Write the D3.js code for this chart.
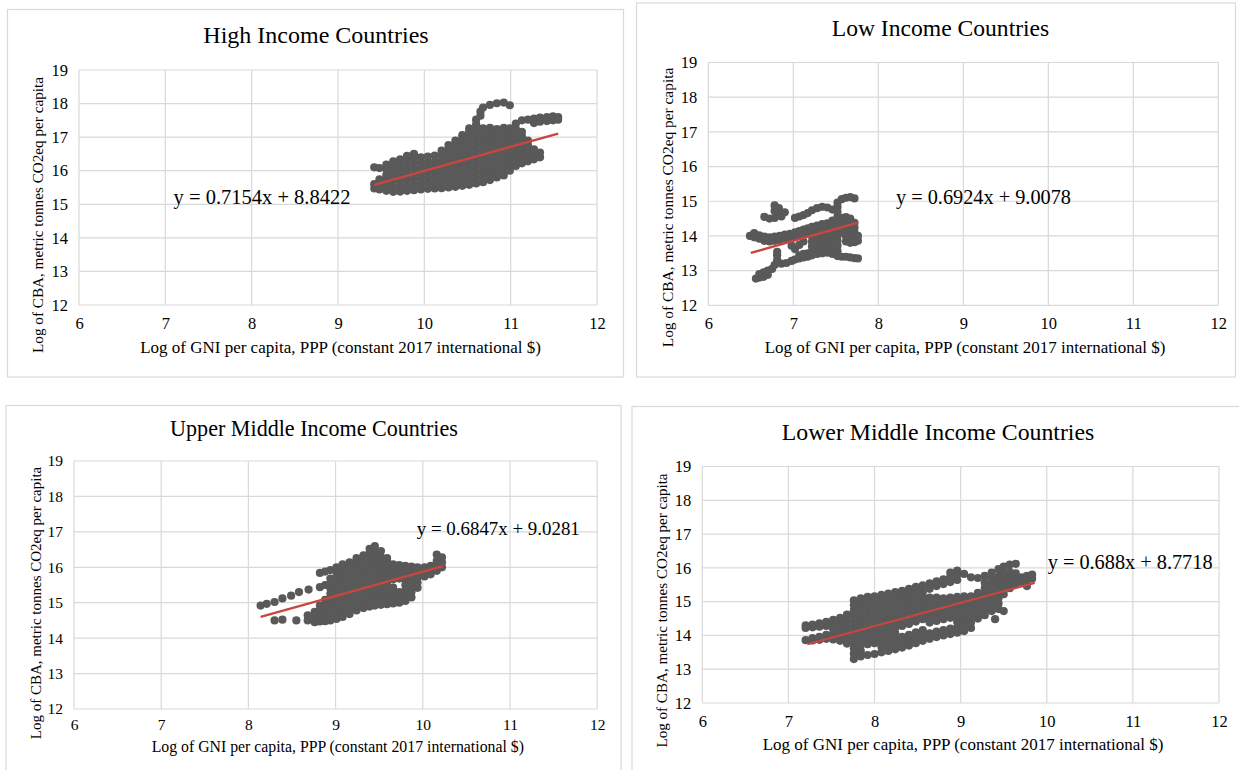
<!DOCTYPE html>
<html>
<head>
<meta charset="utf-8">
<script src="https://cdn.jsdelivr.net/npm/d3@7"></script>
<style>
  body { margin: 0; background: #fff; }
  svg { display: block; }
</style>
</head>
<body>
<svg width="1239" height="770"></svg>
<script>
// ---- data ----
const xTicks = [6, 7, 8, 9, 10, 11, 12];
const yTicks = [12, 13, 14, 15, 16, 17, 18, 19];
const xTitle = "Log of GNI per capita, PPP (constant 2017 international $)";
const yTitle = "Log of CBA, metric tonnes CO2eq per capita";
const titles = ["High Income Countries", "Low Income Countries", "Upper Middle Income Countries", "Lower Middle Income Countries"];
const equations = ["y = 0.7154x + 8.8422", "y = 0.6924x + 9.0078", "y = 0.6847x + 9.0281", "y = 0.688x + 8.7718"];
const slopes = [0.7154, 0.6924, 0.6847, 0.688];
const intercepts = [8.8422, 9.0078, 9.0281, 8.7718];
const trendFrom = [9.42, 6.5, 8.14, 7.22];
const trendTo = [11.55, 7.76, 10.23, 9.86];

// points are stored as columns: [x, y1, y2, ...]
const highCols = [
  [9.42, 15.47, 15.6, 16.1],
  [9.48, 15.44, 15.6, 15.74, 16.08],
  [9.56, 15.40, 15.56, 15.72, 15.88, 16.04, 16.18],
  [9.64, 15.37, 15.53, 15.69, 15.85, 16.01, 16.17, 16.28],
  [9.72, 15.38, 15.54, 15.70, 15.86, 16.02, 16.18, 16.34],
  [9.80, 15.40, 15.56, 15.72, 15.88, 16.04, 16.20, 16.36, 16.44],
  [9.88, 15.42, 15.58, 15.74, 15.90, 16.06, 16.22, 16.38, 16.50],
  [9.96, 15.44, 15.60, 15.76, 15.92, 16.08, 16.24, 16.40],
  [10.04, 15.46, 15.62, 15.78, 15.94, 16.10, 16.26, 16.42],
  [10.12, 15.47, 15.63, 15.79, 15.95, 16.11, 16.27, 16.45],
  [10.20, 15.48, 15.64, 15.80, 15.96, 16.12, 16.28, 16.44, 16.60],
  [10.28, 15.50, 15.66, 15.82, 15.98, 16.14, 16.30, 16.46, 16.62, 16.76],
  [10.36, 15.52, 15.68, 15.84, 16.00, 16.16, 16.32, 16.48, 16.64, 16.80, 16.90],
  [10.44, 15.55, 15.71, 15.87, 16.03, 16.19, 16.35, 16.51, 16.67, 16.83, 16.99, 17.06],
  [10.52, 15.58, 15.74, 15.90, 16.06, 16.22, 16.38, 16.54, 16.70, 16.86, 17.02, 17.18, 17.26],
  [10.60, 15.62, 15.78, 15.94, 16.10, 16.26, 16.42, 16.58, 16.74, 16.90, 17.06, 17.22, 17.38, 17.52],
  [10.65, 17.64, 17.76],
  [10.68, 15.66, 15.82, 15.98, 16.14, 16.30, 16.46, 16.62, 16.78, 16.94, 17.10, 17.26, 17.88],
  [10.76, 15.72, 15.88, 16.04, 16.20, 16.36, 16.52, 16.68, 16.84, 17.00, 17.16, 17.28, 17.96],
  [10.84, 15.80, 15.96, 16.12, 16.28, 16.44, 16.60, 16.76, 16.92, 17.08, 17.24, 18.01],
  [10.92, 15.86, 16.02, 16.18, 16.34, 16.50, 16.66, 16.82, 16.98, 17.14, 17.28, 18.03],
  [10.99, 16.00, 16.16, 16.32, 16.48, 16.64, 16.80, 16.96, 17.12, 17.26, 17.95],
  [11.06, 16.14, 16.30, 16.46, 16.62, 16.78, 16.94, 17.10, 17.24, 17.40],
  [11.13, 16.22, 16.38, 16.54, 16.70, 16.86, 17.02, 17.16, 17.50],
  [11.20, 16.28, 16.44, 16.60, 16.76, 16.90, 17.52],
  [11.27, 16.34, 16.50, 16.64, 17.42, 17.55],
  [11.34, 16.40, 16.54, 17.46, 17.58],
  [11.42, 17.48, 17.60],
  [11.49, 17.50, 17.62],
  [11.55, 17.52, 17.60]
];

const lowCols = [
  [6.49, 14.0],
  [6.54, 13.96, 14.08],
  [6.56, 12.77],
  [6.6, 12.8, 12.9, 13.92, 14.02],
  [6.65, 12.82, 12.95],
  [6.66, 13.86, 13.98, 14.55],
  [6.7, 12.88, 13.0],
  [6.72, 13.84, 13.96, 14.5],
  [6.75, 13.05],
  [6.78, 13.16, 13.86, 13.98, 14.52, 14.72, 14.88],
  [6.81, 13.3, 13.44, 13.54],
  [6.83, 14.62, 14.8],
  [6.84, 13.88, 14.0],
  [6.86, 13.2, 14.56],
  [6.9, 13.92, 14.04, 14.68],
  [6.92, 13.22],
  [6.96, 13.95, 14.06],
  [6.98, 13.28, 13.72],
  [7.02, 13.32, 13.62, 13.98, 14.1, 14.52],
  [7.07, 13.35, 13.44, 13.74, 14.02, 14.14, 14.56],
  [7.12, 13.38, 13.48, 13.84, 14.06, 14.18, 14.6],
  [7.17, 13.4, 13.5, 14.1, 14.22, 14.66],
  [7.22, 13.44, 13.56, 13.7, 13.84, 13.98, 14.12, 14.26, 14.74],
  [7.28, 13.48, 13.6, 13.74, 13.88, 14.02, 14.16, 14.3, 14.8],
  [7.34, 13.5, 13.64, 13.78, 13.92, 14.06, 14.2, 14.34, 14.84],
  [7.4, 13.52, 13.66, 13.8, 13.94, 14.08, 14.22, 14.36, 14.82],
  [7.46, 13.48, 13.62, 13.76, 13.9, 14.04, 14.18, 14.32, 14.44, 14.76],
  [7.52, 13.42, 13.56, 13.72, 13.86, 14.0, 14.14, 14.28, 14.42, 14.56, 14.7, 14.84, 14.96],
  [7.57, 13.4, 14.1, 14.24, 14.38, 14.52, 15.06],
  [7.62, 13.4, 13.84, 13.98, 14.12, 14.26, 14.4, 14.54, 15.1],
  [7.67, 13.38, 13.8, 13.94, 14.08, 14.22, 14.36, 14.5, 15.12],
  [7.72, 13.36, 13.82, 13.96, 14.1, 14.24, 14.38, 15.08],
  [7.76, 13.35, 13.86, 14.0]
];

const upperCols = [
  [8.14, 14.92], [8.21, 14.97], [8.30, 14.50, 15.02], [8.39, 14.52, 15.12],
  [8.49, 15.20], [8.55, 14.50], [8.58, 15.30], [8.69, 15.37],
  [8.68, 14.50, 14.64],
  [8.76, 14.45, 14.60, 14.74],
  [8.82, 14.47, 14.62, 14.77, 14.92, 15.44, 15.84],
  [8.88, 14.48, 14.63, 14.78, 14.93, 15.08, 15.50, 15.88],
  [8.94, 14.50, 14.65, 14.80, 14.95, 15.10, 15.25, 15.40, 15.55, 15.68, 15.92],
  [9.01, 14.54, 14.69, 14.84, 14.99, 15.14, 15.29, 15.44, 15.59, 15.74, 15.89, 16.00],
  [9.08, 14.60, 14.75, 14.90, 15.05, 15.20, 15.35, 15.50, 15.65, 15.80, 15.95, 16.08],
  [9.16, 14.68, 14.83, 14.98, 15.13, 15.28, 15.43, 15.58, 15.73, 15.88, 16.03, 16.14],
  [9.24, 14.78, 14.93, 15.08, 15.23, 15.38, 15.53, 15.68, 15.83, 15.98, 16.13, 16.26],
  [9.32, 14.85, 15.00, 15.15, 15.30, 15.45, 15.60, 15.75, 15.90, 16.05, 16.20, 16.34],
  [9.39, 14.89, 15.04, 15.19, 15.34, 15.49, 15.64, 15.79, 15.94, 16.09, 16.24, 16.39, 16.52],
  [9.45, 14.92, 15.07, 15.22, 15.37, 15.52, 15.67, 15.82, 15.97, 16.12, 16.27, 16.42, 16.60],
  [9.52, 14.94, 15.09, 15.24, 15.39, 15.54, 15.69, 15.84, 15.99, 16.14, 16.29, 16.46],
  [9.59, 14.96, 15.11, 15.26, 15.41, 15.56, 15.71, 15.86, 16.01, 16.16, 16.26],
  [9.66, 14.98, 15.13, 15.28, 15.43, 15.66, 15.81, 15.96, 16.08],
  [9.73, 15.00, 15.15, 15.30, 15.68, 15.83, 15.98, 16.06],
  [9.80, 15.05, 15.20, 15.35, 15.50, 15.65, 15.80, 15.95, 16.04],
  [9.87, 15.15, 15.30, 15.45, 15.60, 15.75, 15.90, 16.02],
  [9.94, 15.42, 15.57, 15.72, 15.87, 16.00],
  [10.02, 15.74, 15.88, 16.00],
  [10.09, 15.80, 15.94, 16.04],
  [10.16, 15.90, 16.04, 16.18, 16.36],
  [10.22, 16.00, 16.14, 16.28]
];

const lowerCols = [
  [7.20, 13.86, 14.22, 14.30],
  [7.28, 13.85, 13.92, 14.24, 14.32],
  [7.36, 13.87, 13.96, 14.26, 14.36],
  [7.44, 13.90, 14.02, 14.28, 14.40],
  [7.52, 13.88, 14.04, 14.18, 14.32, 14.46],
  [7.60, 13.84, 14.00, 14.14, 14.30, 14.46, 14.52],
  [7.68, 13.76, 13.92, 14.08, 14.24, 14.40, 14.56, 14.62],
  [7.76, 13.30, 13.46, 13.62, 13.78, 13.94, 14.10, 14.26, 14.42, 14.58, 14.74, 14.90, 15.04],
  [7.84, 13.38, 13.54, 13.70, 13.86, 14.02, 14.18, 14.34, 14.50, 14.66, 14.82, 14.98, 15.10],
  [7.92, 13.42, 13.74, 13.90, 14.06, 14.22, 14.38, 14.54, 14.70, 14.86, 15.02, 15.14],
  [8.00, 13.45, 13.77, 13.93, 14.09, 14.25, 14.41, 14.57, 14.73, 14.89, 15.05, 15.16],
  [8.08, 13.50, 13.66, 13.82, 13.98, 14.14, 14.30, 14.46, 14.62, 14.78, 14.94, 15.10, 15.20],
  [8.16, 13.54, 13.70, 13.86, 14.02, 14.18, 14.34, 14.50, 14.66, 14.82, 14.98, 15.14, 15.24],
  [8.24, 13.59, 13.75, 13.91, 14.07, 14.23, 14.39, 14.55, 14.71, 14.87, 15.03, 15.19, 15.28],
  [8.32, 13.64, 13.80, 13.96, 14.28, 14.44, 14.60, 14.76, 14.92, 15.08, 15.24, 15.32],
  [8.40, 13.70, 13.86, 14.02, 14.34, 14.50, 14.66, 14.82, 14.98, 15.14, 15.30, 15.38],
  [8.48, 13.77, 13.93, 14.09, 14.41, 14.57, 14.73, 14.89, 15.05, 15.21, 15.37, 15.44],
  [8.56, 13.84, 14.00, 14.16, 14.48, 14.64, 14.80, 14.96, 15.12, 15.28, 15.48],
  [8.64, 13.90, 14.06, 14.38, 14.54, 14.70, 14.86, 15.02, 15.12, 15.38, 15.54],
  [8.72, 13.95, 14.11, 14.43, 14.59, 14.75, 14.91, 15.07, 15.12, 15.46, 15.60],
  [8.80, 14.00, 14.16, 14.48, 14.64, 14.80, 14.96, 15.10, 15.52, 15.66],
  [8.88, 14.04, 14.20, 14.52, 14.68, 14.84, 15.00, 15.12, 15.58, 15.74, 15.86],
  [8.96, 14.08, 14.24, 14.40, 14.56, 14.72, 14.88, 15.04, 15.14, 15.64, 15.80, 15.92],
  [9.04, 14.13, 14.29, 14.45, 14.61, 14.77, 14.93, 15.08, 15.16, 15.82],
  [9.12, 14.22, 14.38, 14.54, 14.70, 14.86, 15.02, 15.16, 15.72],
  [9.20, 14.50, 14.66, 14.82, 14.98, 15.14, 15.26, 15.70],
  [9.28, 14.60, 14.76, 14.92, 15.08, 15.24, 15.40, 15.56, 15.76],
  [9.36, 14.72, 14.88, 15.04, 15.20, 15.36, 15.52, 15.68, 15.86],
  [9.40, 14.48],
  [9.44, 14.78, 14.94, 15.10, 15.26, 15.42, 15.58, 15.74, 15.96],
  [9.50, 14.72, 15.22, 15.38, 15.54, 15.70, 15.86, 16.04],
  [9.57, 15.40, 15.56, 15.72, 15.88, 16.10],
  [9.64, 15.52, 15.68, 15.84, 16.12],
  [9.71, 15.58, 15.72],
  [9.77, 15.46, 15.64, 15.76],
  [9.83, 15.68, 15.80]
];

const pointSets = [highCols, lowCols, upperCols, lowerCols];

// ---- layout of the four screenshots ----
const panels = [
  { left: 79, right: 597, top: 70, bottom: 305, frame: [7.5, 9.5, 616, 367.5],
    titleX: 316, titleY: 35, titleSize: 24, xtX: 340.5, xtY: 347, xtSize: 17,
    ytX: 37, ytY: 215, ytSize: 15.2, eqX: 173.6, eqY: 197, eqSize: 20.5, tick: 16.5, pad: 12 },
  { left: 708.3, right: 1218.3, top: 62.5, bottom: 305.3, frame: [636.5, 3, 599, 374],
    titleX: 940.5, titleY: 28.3, titleSize: 23.6, xtX: 965, xtY: 347, xtSize: 17,
    ytX: 667.7, ytY: 207.5, ytSize: 15.4, eqX: 896, eqY: 197, eqSize: 20.3, tick: 16.5, pad: 12 },
  { left: 74, right: 597.2, top: 461, bottom: 709, frame: [6, 405.5, 615, 380],
    titleX: 314, titleY: 428.3, titleSize: 22.1, xtX: 337.8, xtY: 746, xtSize: 15.8,
    ytX: 35.6, ytY: 603, ytSize: 15, eqX: 416.8, eqY: 528.3, eqSize: 18.9, tick: 15.5, pad: 10 },
  { left: 702.3, right: 1219, top: 466.5, bottom: 703, frame: [632, 406.5, 620, 380],
    titleX: 938, titleY: 432.3, titleSize: 23.8, xtX: 963, xtY: 744.3, xtSize: 17,
    ytX: 661.9, ytY: 610.5, ytSize: 15.1, eqX: 1047.7, eqY: 561.7, eqSize: 20.3, tick: 16.5, pad: 12 }
];

const FONT = "'Liberation Serif', 'Times New Roman', serif";
const GRID = "#d9d9d9";
const DOT = "#595959";
const TREND = "#c9463f";

const svg = d3.select("svg");
svg.append("rect").attr("width", 1239).attr("height", 770).attr("fill", "#fff");

panels.forEach((p, i) => drawPanel(p, i));

function drawPanel(p, i) {
  const g = svg.append("g");

  g.append("rect")
    .attr("x", p.frame[0]).attr("y", p.frame[1])
    .attr("width", p.frame[2]).attr("height", p.frame[3])
    .attr("fill", "#fff").attr("stroke", GRID).attr("stroke-width", 1.2);

  const x = d3.scaleLinear().domain([6, 12]).range([p.left, p.right]);
  const y = d3.scaleLinear().domain([12, 19]).range([p.bottom, p.top]);

  // gridlines
  g.selectAll(".vg").data(xTicks).enter().append("line")
    .attr("x1", d => x(d)).attr("x2", d => x(d))
    .attr("y1", p.top).attr("y2", p.bottom)
    .attr("stroke", GRID).attr("stroke-width", 1.2);
  g.selectAll(".hg").data(yTicks).enter().append("line")
    .attr("x1", p.left).attr("x2", p.right)
    .attr("y1", d => y(d)).attr("y2", d => y(d))
    .attr("stroke", GRID).attr("stroke-width", 1.2);

  // axes (labels only)
  const ax = g.append("g")
    .attr("transform", `translate(0,${p.bottom})`)
    .call(d3.axisBottom(x).tickValues(xTicks).tickFormat(d3.format("d")).tickSize(0).tickPadding(p.pad));
  const ay = g.append("g")
    .attr("transform", `translate(${p.left},0)`)
    .call(d3.axisLeft(y).tickValues(yTicks).tickFormat(d3.format("d")).tickSize(0).tickPadding(11));
  [ax, ay].forEach(a => {
    a.attr("font-family", FONT).attr("font-size", p.tick);
    a.select(".domain").remove();
    a.selectAll("text")
      .style("font-family", FONT)
      .style("font-size", p.tick + "px")
      .attr("fill", "#000");
  });

  // points
  const pts = pointSets[i].flatMap(c => c.slice(1).map(v => [c[0], v]));
  g.append("g").selectAll("circle").data(pts).enter().append("circle")
    .attr("cx", d => x(d[0]))
    .attr("cy", d => y(d[1]))
    .attr("r", 4.1)
    .attr("fill", DOT);

  // linear trendline
  const line = d3.line().x(d => x(d)).y(d => y(slopes[i] * d + intercepts[i]));
  g.append("path")
    .datum([trendFrom[i], trendTo[i]])
    .attr("d", line)
    .attr("fill", "none")
    .attr("stroke", TREND)
    .attr("stroke-width", 2.3);

  // texts
  g.append("text")
    .attr("x", p.titleX).attr("y", p.titleY)
    .attr("text-anchor", "middle").attr("dominant-baseline", "central")
    .style("font-family", FONT).style("font-size", p.titleSize + "px")
    .text(titles[i]);

  g.append("text")
    .attr("x", p.xtX).attr("y", p.xtY)
    .attr("text-anchor", "middle").attr("dominant-baseline", "central")
    .style("font-family", FONT).style("font-size", p.xtSize + "px")
    .text(xTitle);

  g.append("text")
    .attr("transform", `translate(${p.ytX},${p.ytY}) rotate(-90)`)
    .attr("text-anchor", "middle").attr("dominant-baseline", "central")
    .style("font-family", FONT).style("font-size", p.ytSize + "px")
    .text(yTitle);

  g.append("text")
    .attr("x", p.eqX).attr("y", p.eqY)
    .attr("dominant-baseline", "central")
    .style("font-family", FONT).style("font-size", p.eqSize + "px")
    .text(equations[i]);
}
</script>
</body>
</html>
